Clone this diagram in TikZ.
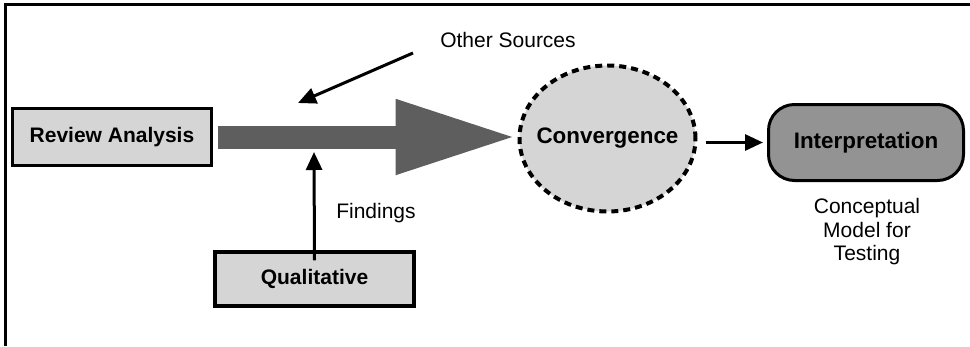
\documentclass[tikz,border=0pt]{standalone}
\usepackage{fontspec}
\setmainfont{Liberation Sans}
\usetikzlibrary{arrows.meta,shapes.geometric}

\definecolor{boxgray}{HTML}{D5D5D5}
\definecolor{darkgray}{HTML}{939393}
\definecolor{arrowgray}{HTML}{5E5E5E}

\tikzset{
  inbox/.style={draw, line width=3.5pt, fill=boxgray, minimum width=199pt,
    font=\fontsize{21}{24}\selectfont\bfseries},
  plain/.style={font=\fontsize{21}{23.5}\selectfont, align=center},
  thinarrow/.style={line width=3pt, -{Triangle[length=18pt,width=16pt]}},
}

\begin{document}
\begin{tikzpicture}[x=1pt,y=-1pt]
  \useasboundingbox (0,0) rectangle (970,346);
  % frame
  \draw[line width=3pt] (5,346) -- (5,4) -- (970,4);

  \node[inbox, minimum height=57pt] (review) at (112,137) {Review Analysis};
  \node[inbox, minimum height=54pt] (qual) at (314.5,279) {Qualitative};
  \node[draw, ellipse, fill=boxgray, line width=4pt, dash pattern=on 7pt off 5pt,
    inner xsep=-25pt, inner ysep=0pt, minimum width=176pt, minimum height=146pt,
    font=\fontsize{22.4}{24}\selectfont\bfseries] (conv) at (607.5,138.5) {Convergence};
  \node[draw, fill=darkgray, line width=3pt, rounded corners=26pt,
    minimum width=195pt, minimum height=76pt,
    font=\fontsize{22.4}{24}\selectfont\bfseries] (interp) at (866,142.5) {Interpretation};

  \node[plain] (other) at (508,40) {Other Sources};
  \node[plain] (find) at (376,213) {Findings};
  \node[plain] (model) at (867,232) {Conceptual\\Model for\\Testing};

  \coordinate (othout) at (413,53);
  \coordinate (othin) at (298,103);
  \coordinate (findin) at (314,152);

  % main flow
  \draw[arrowgray, line width=23pt, -{Triangle[length=122pt,width=69pt]}]
    ([xshift=5pt]review.east) -- (review.east -| conv.west);
  \draw[thinarrow] (othout) -- (othin);
  \draw[thinarrow] ([yshift=-10pt]qual.north) -- (findin);
  \draw[thinarrow, shorten <=8pt, shorten >=4pt] (conv.east |- interp.west) -- (interp.west);
\end{tikzpicture}
\end{document}
